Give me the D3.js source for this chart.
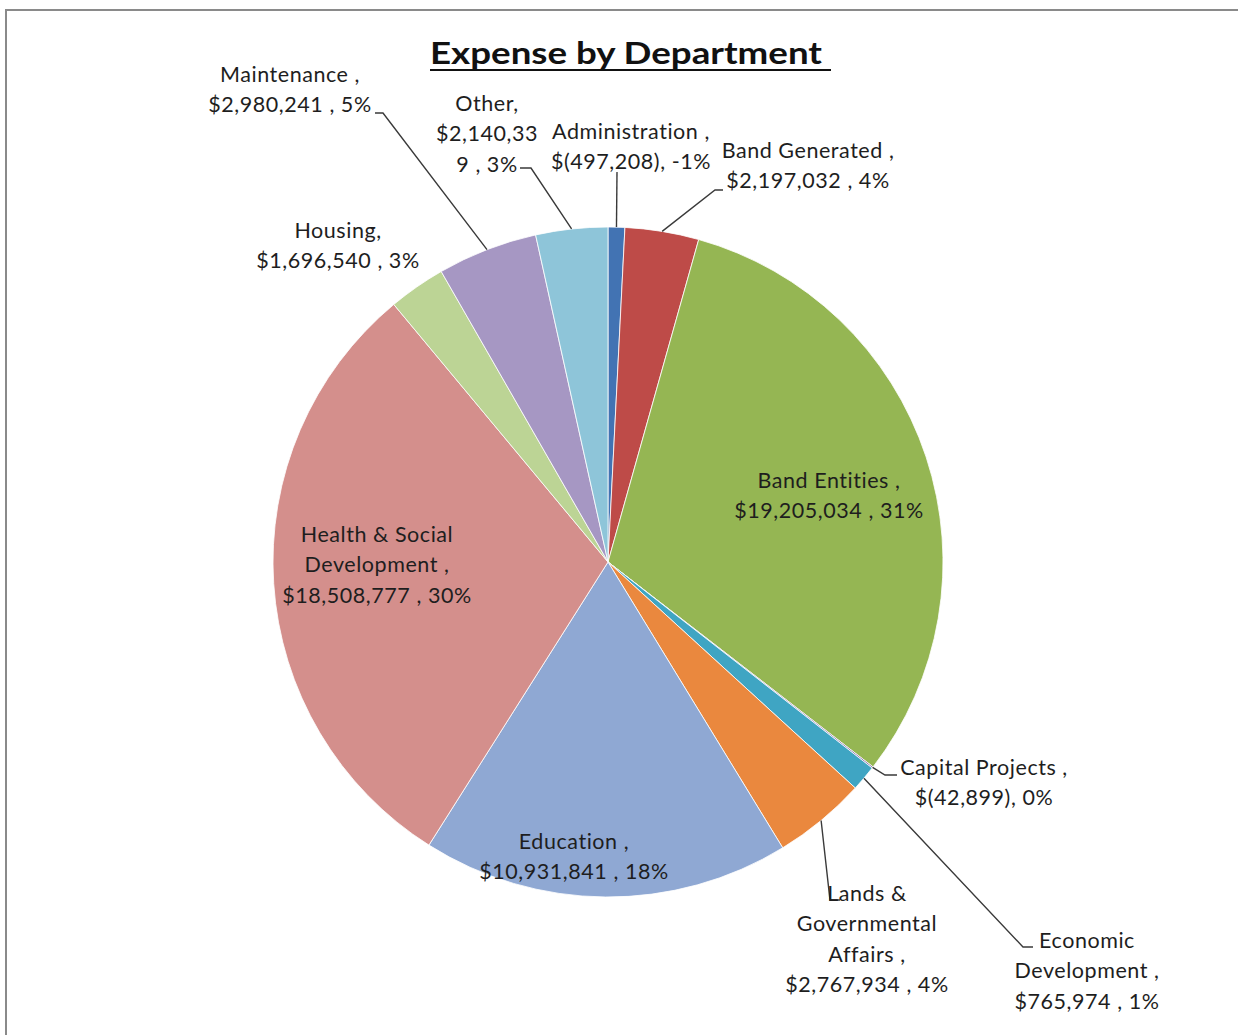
<!DOCTYPE html>
<html>
<head>
<meta charset="utf-8">
<script src="https://cdn.jsdelivr.net/npm/d3@7/dist/d3.min.js"></script>
<style>
  html, body { margin: 0; padding: 0; background: #fff; }
  svg { display: block; }
  text { font-family: Lato, "Open Sans", sans-serif; }
</style>
</head>
<body>
<svg id="chart" width="1238" height="1035"></svg>
<script>
// Expense by department (Excel-style pie, clockwise from 12 o'clock)
const departments = [
  "Administration ", "Band Generated ", "Band Entities ", "Capital Projects ",
  "Economic Development ", "Lands & Governmental Affairs ", "Education ",
  "Health & Social Development ", "Housing", "Maintenance ", "Other"
];
const expenses = [
  -497208, 2197032, 19205034, -42899,
  765974, 2767934, 10931841,
  18508777, 1696540, 2980241, 2140339
];
const sliceColors = [
  "#4273b3", "#be4b48", "#95b653", "#8064a2",
  "#3fa5c3", "#ea883e", "#8fa8d3",
  "#d48f8c", "#bcd495", "#a697c3", "#8ec5d9"
];

// Label placement: centre x, first-line centre y, wrap width in characters,
// and the leader-line elbow / end points (null when the label sits inside)
const labelLayout = [
  { x: 631, y: 131, wrap: 16, leader: [[617, 172], [617, 172]] },
  { x: 808, y: 150, wrap: 16, leader: [[715, 190], [723, 190]] },
  { x: 829, y: 480, wrap: 17, leader: null },
  { x: 984, y: 767, wrap: 18, leader: [[885, 775], [897, 775]] },
  { x: 1087, y: 940, wrap: 13, leader: [[1023, 947], [1033, 947]] },
  { x: 867, y: 893, wrap: 15, leader: [[830, 900], [840, 900]] },
  { x: 574, y: 841, wrap: 17, leader: null },
  { x: 377, y: 534, wrap: 17, leader: null },
  { x: 338, y: 230, wrap: 15, leader: null },
  { x: 290, y: 74, wrap: 15, leader: [[383, 113], [375, 113]] },
  { x: 487, y: 103, wrap: 9, leader: [[531, 168], [520, 168]] }
];

const W = 1238, H = 1035;
const cx = 608, cy = 562, radius = 335;
const lineGap = 30.5;

const svg = d3.select("#chart");

// chart frame
svg.append("rect")
  .attr("x", 6).attr("y", 10)
  .attr("width", W + 20).attr("height", H + 20)
  .attr("fill", "#fff")
  .attr("stroke", "#8a8a8a")
  .attr("stroke-width", 2);

// title, underlined
svg.append("text")
  .attr("x", 626).attr("y", 64)
  .attr("text-anchor", "middle")
  .attr("font-size", 30)
  .attr("font-weight", 700)
  .attr("fill", "#111")
  .attr("textLength", 392)
  .attr("lengthAdjust", "spacingAndGlyphs")
  .text("Expense by Department");
svg.append("line")
  .attr("x1", 430).attr("x2", 831)
  .attr("y1", 70).attr("y2", 70)
  .attr("stroke", "#111").attr("stroke-width", 2);

const rows = departments.map((name, i) => ({
  name, value: expenses[i], color: sliceColors[i], layout: labelLayout[i]
}));
const totalAbs = d3.sum(expenses, v => Math.abs(v));

const pie = d3.pie().sort(null).value(d => Math.abs(d.value)).startAngle(0).endAngle(2 * Math.PI);
const arcs = pie(rows);
const arc = d3.arc().innerRadius(0).outerRadius(radius);
const edge = d3.arc().innerRadius(radius).outerRadius(radius);

const g = svg.append("g").attr("transform", `translate(${cx},${cy})`);

g.selectAll("path.slice")
  .data(arcs)
  .join("path")
  .attr("class", "slice")
  .attr("d", arc)
  .attr("fill", d => d.data.color)
  .attr("stroke", "#fff")
  .attr("stroke-width", 0.8);

// label text, e.g. "Maintenance , $2,980,241 , 5%"
const fmt = d3.format(",");
function labelText(d) {
  const v = d.value;
  const money = v < 0 ? `$(${fmt(-v)})` : `$${fmt(v)} `;
  const pct = Math.round(v / totalAbs * 100);
  return `${d.name}, ${money}, ${pct === 0 ? 0 : pct}%`;
}
function wrap(str, maxChars) {
  const words = str.split(/\s+/).filter(w => w.length);
  const lines = [];
  let cur = "";
  for (let w of words) {
    const trial = cur ? cur + " " + w : w;
    if (trial.length <= maxChars) { cur = trial; continue; }
    if (cur) lines.push(cur);
    while (w.length > maxChars) { lines.push(w.slice(0, maxChars)); w = w.slice(maxChars); }
    cur = w;
  }
  if (cur) lines.push(cur);
  return lines;
}

// leader lines
arcs.forEach(a => {
  const L = a.data.layout;
  if (!L.leader) return;
  const [ex, ey] = edge.centroid(a);
  const pts = [[cx + ex, cy + ey], L.leader[0], L.leader[1]];
  svg.append("path")
    .attr("d", d3.line()(pts))
    .attr("fill", "none")
    .attr("stroke", "#3a3a3a")
    .attr("stroke-width", 1.4);
});

// data labels
arcs.forEach(a => {
  const L = a.data.layout;
  const lines = wrap(labelText(a.data), L.wrap);
  const t = svg.append("text")
    .attr("text-anchor", "middle")
    .attr("font-size", 21.5)
    .attr("letter-spacing", 0.55)
    .attr("fill", "#1e1e1e");
  lines.forEach((ln, k) => {
    t.append("tspan")
      .attr("x", L.x)
      .attr("y", L.y + k * lineGap)
      .attr("dy", "0.35em")
      .text(ln);
  });
});
</script>
</body>
</html>
